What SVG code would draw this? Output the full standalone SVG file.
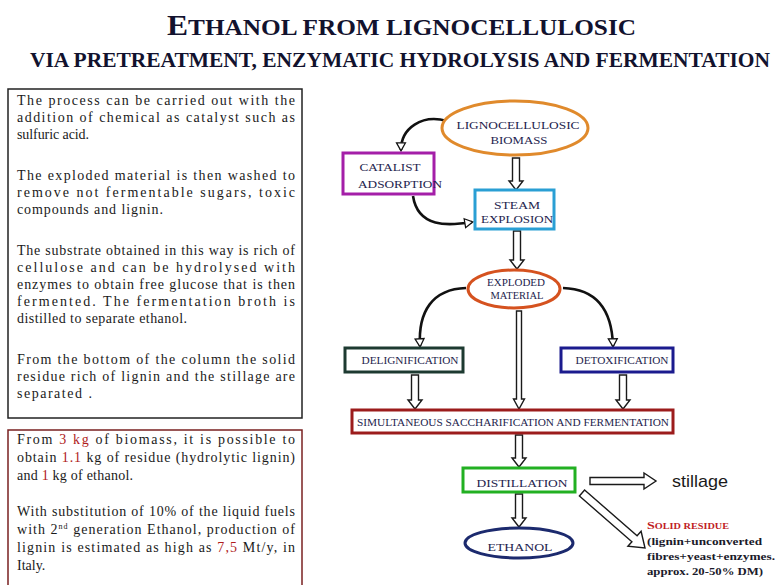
<svg xmlns="http://www.w3.org/2000/svg" width="776" height="585" viewBox="0 0 776 585">
<style>
.title{font-family:"Liberation Serif","Times New Roman",serif;font-weight:bold;fill:#12122e}
.body{font-family:"Liberation Serif","Times New Roman",serif;font-size:14px;fill:#1a1a1a}
.red{fill:#b01c1c}
.lbl{font-family:"Liberation Serif","Times New Roman",serif;font-size:11px;fill:#1e1e4e;text-anchor:middle}
.node{fill:#ffffff;stroke-width:3}
.blk{fill:#ffffff;stroke:#1a1a1a;stroke-width:1.4;stroke-linejoin:miter}
.crv{fill:none;stroke:#111111;stroke-width:2.6}
.res{font-family:"Liberation Serif","Times New Roman",serif;font-weight:bold;font-size:11px;fill:#1a1a2a}
</style>
<defs>
<marker id="hollow" viewBox="0 0 10 10" refX="8" refY="5" markerWidth="9" markerHeight="9" markerUnits="userSpaceOnUse" orient="auto" overflow="visible">
<path d="M0,0 L9,5 L0,10 Z" fill="#ffffff" stroke="#111111" stroke-width="1.4"/>
</marker>
</defs>
<rect width="776" height="585" fill="#ffffff"/>

<g id="title">
<text class="title" x="167" y="35" font-size="24" textLength="469" lengthAdjust="spacingAndGlyphs"><tspan font-size="30">E</tspan>THANOL FROM LIGNOCELLULOSIC</text>
<text class="title" x="30" y="67" font-size="20" textLength="740" lengthAdjust="spacingAndGlyphs">VIA PRETREATMENT,  ENZYMATIC  HYDROLYSIS  AND FERMENTATION</text>
</g>

<g id="textbox1">
<rect x="8" y="89" width="294" height="329" fill="#ffffff" stroke="#222222" stroke-width="1.5"/>
<text class="body" x="17" y="105" textLength="278" lengthAdjust="spacing">The process  can be carried out with the</text>
<text class="body" x="17" y="122" textLength="278" lengthAdjust="spacing">addition of chemical as catalyst such as</text>
<text class="body" x="17" y="139" textLength="72" lengthAdjust="spacing">sulfuric acid.</text>
<text class="body" x="17" y="180" textLength="278" lengthAdjust="spacing">The exploded material is then washed to</text>
<text class="body" x="17" y="197" textLength="278" lengthAdjust="spacing">remove not fermentable sugars, toxic</text>
<text class="body" x="17" y="214" textLength="146" lengthAdjust="spacing">compounds and lignin.</text>
<text class="body" x="17" y="255" textLength="278" lengthAdjust="spacing">The substrate obtained in this way is rich of</text>
<text class="body" x="17" y="272" textLength="278" lengthAdjust="spacing">cellulose and can be hydrolysed with</text>
<text class="body" x="17" y="289" textLength="278" lengthAdjust="spacing">enzymes to obtain free glucose that is then</text>
<text class="body" x="17" y="306" textLength="278" lengthAdjust="spacing">fermented. The fermentation broth is</text>
<text class="body" x="17" y="323" textLength="170" lengthAdjust="spacing">distilled to separate ethanol.</text>
<text class="body" x="17" y="364" textLength="278" lengthAdjust="spacing">From the bottom of the column the solid</text>
<text class="body" x="17" y="381" textLength="278" lengthAdjust="spacing">residue rich of lignin and the stillage are</text>
<text class="body" x="17" y="398" textLength="75" lengthAdjust="spacing">separated .</text>
</g>

<g id="textbox2">
<rect x="8" y="430" width="294" height="170" fill="#ffffff" stroke="#7a2020" stroke-width="1.5"/>
<text class="body" x="17" y="444" textLength="278" lengthAdjust="spacing">From <tspan class="red">3 kg</tspan> of biomass, it is possible to</text>
<text class="body" x="17" y="462" textLength="278" lengthAdjust="spacing">obtain <tspan class="red">1.1</tspan> kg of residue (hydrolytic lignin)</text>
<text class="body" x="17" y="480" textLength="116" lengthAdjust="spacing">and <tspan class="red">1</tspan> kg of ethanol.</text>
<text class="body" x="17" y="516" textLength="278" lengthAdjust="spacing">With substitution of 10% of the liquid fuels</text>
<text class="body" x="17" y="534" textLength="278" lengthAdjust="spacing">with  2<tspan font-size="8" dy="-5">nd</tspan><tspan dy="5"> generation Ethanol, production of</tspan></text>
<text class="body" x="17" y="552" textLength="278" lengthAdjust="spacing">lignin is estimated as high as <tspan class="red">7,5</tspan> Mt/y, in</text>
<text class="body" x="17" y="570">Italy.</text>
</g>

<g id="connectors">
<path class="crv" d="M447,121 C422,114 401,128 401,150" marker-end="url(#hollow)"/>
<path class="crv" d="M413,196 C418,228 448,226 472,222" marker-end="url(#hollow)"/>
<path class="crv" d="M466,288 C432,289 418,312 420,346" marker-end="url(#hollow)"/>
<path class="crv" d="M563,288 C598,289 612,312 613,346" marker-end="url(#hollow)"/>
<path class="blk" d="M512.5,158 H519.5 V181 H523 L516,190 L509,181 H512.5 Z"/>
<path class="blk" d="M513.5,231 H520.5 V260 H524 L517,269 L510,260 H513.5 Z"/>
<path class="blk" d="M516.5,311 H521.5 V399 H524.5 L519,409 L513.5,399 H516.5 Z"/>
<path class="blk" d="M411.5,375 H418.5 V400 H422 L415,409 L408,400 H411.5 Z"/>
<path class="blk" d="M619.5,375 H626.5 V400 H630 L623,409 L616,400 H619.5 Z"/>
<path class="blk" d="M515.5,435 H522.5 V458 H526 L519,467 L512,458 H515.5 Z"/>
<path class="blk" d="M515.5,494 H522.5 V518 H526 L519,527 L512,518 H515.5 Z"/>
<path class="blk" d="M590,477.5 V484.5 H644 V489 L656,481 L644,473 V477.5 Z"/>
<path class="blk" d="M584.6,490 L637.1,535.8 L641.1,531.3 L645,548 L627.9,546.3 L631.9,541.8 L579.4,496 Z"/>
</g>

<g id="biomass">
<ellipse class="node" cx="515" cy="128" rx="73" ry="27" stroke="#e08a2c"/>
<text class="lbl" x="518" y="129" textLength="123" lengthAdjust="spacingAndGlyphs">LIGNOCELLULOSIC</text>
<text class="lbl" x="519" y="144" textLength="57" lengthAdjust="spacingAndGlyphs">BIOMASS</text>
</g>

<g id="catalist">
<rect class="node" x="343" y="153" width="91" height="41" stroke="#a41fa8"/>
<text class="lbl" x="390" y="171" textLength="61" lengthAdjust="spacingAndGlyphs">CATALIST</text>
<text class="lbl" x="400" y="188" textLength="84" lengthAdjust="spacingAndGlyphs">ADSORPTION</text>
</g>

<g id="steam">
<rect class="node" x="475" y="190" width="79" height="39" stroke="#2a9fd4"/>
<text class="lbl" x="517" y="209" textLength="46" lengthAdjust="spacingAndGlyphs">STEAM</text>
<text class="lbl" x="517" y="223" textLength="72" lengthAdjust="spacingAndGlyphs">EXPLOSION</text>
</g>

<g id="exploded">
<ellipse class="node" cx="514" cy="289" rx="46" ry="19" stroke="#d5521f"/>
<text class="lbl" x="516" y="286" font-size="10" textLength="58" lengthAdjust="spacingAndGlyphs">EXPLODED</text>
<text class="lbl" x="517" y="299" font-size="10" textLength="53" lengthAdjust="spacingAndGlyphs">MATERIAL</text>
</g>

<g id="delignification">
<rect class="node" x="345" y="348" width="118" height="24" stroke="#1d3a31"/>
<text class="lbl" x="410" y="364" font-size="10" textLength="97" lengthAdjust="spacingAndGlyphs">DELIGNIFICATION</text>
</g>

<g id="detoxification">
<rect class="node" x="561" y="348" width="112" height="24" stroke="#1b1b8e"/>
<text class="lbl" x="622" y="364" font-size="10" textLength="93" lengthAdjust="spacingAndGlyphs">DETOXIFICATION</text>
</g>

<g id="ssf">
<rect class="node" x="352" y="410" width="321" height="23" stroke="#9c1c1c"/>
<text class="lbl" x="513" y="426" font-size="10" textLength="312" lengthAdjust="spacingAndGlyphs">SIMULTANEOUS SACCHARIFICATION AND FERMENTATION</text>
</g>

<g id="distillation">
<rect class="node" x="463" y="468" width="112" height="24" stroke="#22b022"/>
<text class="lbl" x="522" y="487" font-size="10" textLength="91" lengthAdjust="spacingAndGlyphs">DISTILLATION</text>
</g>

<g id="ethanol">
<ellipse class="node" cx="519" cy="543" rx="54" ry="15" stroke="#1c2a6e"/>
<text class="lbl" x="520" y="551" font-size="10.5" textLength="65" lengthAdjust="spacingAndGlyphs">ETHANOL</text>
</g>

<g id="stillage">
<text x="672" y="487" font-family="Liberation Sans, Arial, sans-serif" font-size="17" fill="#1a1a1a" textLength="56" lengthAdjust="spacingAndGlyphs">stillage</text>
</g>

<g id="solid-residue">
<text class="res" x="647" y="529" style="fill:#c0201e" textLength="82" lengthAdjust="spacingAndGlyphs"><tspan font-size="11">S</tspan><tspan font-size="8">OLID  RESIDUE</tspan></text>
<text class="res" x="647" y="545" textLength="115" lengthAdjust="spacingAndGlyphs">(lignin+unconverted</text>
<text class="res" x="647" y="560" textLength="128" lengthAdjust="spacingAndGlyphs">fibres+yeast+enzymes.</text>
<text class="res" x="647" y="575" textLength="116" lengthAdjust="spacingAndGlyphs">approx. 20-50% DM)</text>
</g>
</svg>
